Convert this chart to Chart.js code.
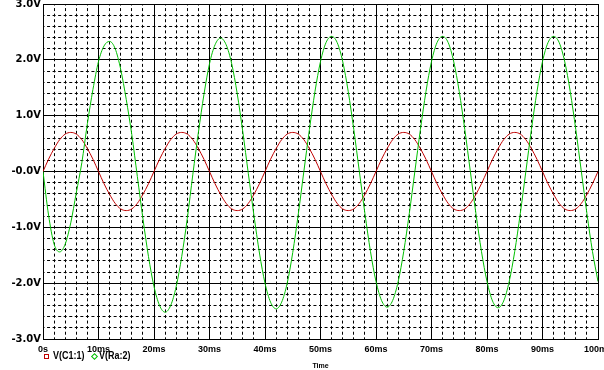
<!DOCTYPE html>
<html>
<head>
<meta charset="utf-8">
<script src="https://cdn.jsdelivr.net/npm/chart.js@4.4.0/dist/chart.umd.min.js"></script>
<style>
  body { margin: 0; background: #fff; }
  #wrap { position: relative; width: 604px; height: 370px; }
  .legtxt { position: absolute; top: 350px; font: bold 10px "Liberation Sans", Arial, sans-serif; color: #000;
            white-space: nowrap; transform: scaleX(0.9); transform-origin: 0 0; }
  .mark { position: absolute; width: 3px; height: 3px; background: #fff; }
</style>
</head>
<body>
<div id="wrap">
  <canvas id="scope" width="604" height="370"></canvas>
</div>
<script>
// series names / colours
const seriesNames = ["V(C1:1)", "V(Ra:2)"];
const seriesColors = ["#c00000", "#00c000"];

// axis tick labels
const xTickLabels = ["0s", "10ms", "20ms", "30ms", "40ms", "50ms", "60ms", "70ms", "80ms", "90ms", "100ms"];
const yTickLabels = ["-3.0V", "-2.0V", "-1.0V", "-0.0V", "1.0V", "2.0V", "3.0V"];

const sampleStepMs = 1;
const vC1 = [
  0.00, 0.22, 0.41, 0.57, 0.67, 0.70, 0.67, 0.57, 0.41, 0.22,
  0.00, -0.22, -0.41, -0.57, -0.67, -0.70, -0.67, -0.57, -0.41, -0.22,
  0.00, 0.22, 0.41, 0.57, 0.67, 0.70, 0.67, 0.57, 0.41, 0.22,
  0.00, -0.22, -0.41, -0.57, -0.67, -0.70, -0.67, -0.57, -0.41, -0.22,
  0.00, 0.22, 0.41, 0.57, 0.67, 0.70, 0.67, 0.57, 0.41, 0.22,
  0.00, -0.22, -0.41, -0.57, -0.67, -0.70, -0.67, -0.57, -0.41, -0.22,
  0.00, 0.22, 0.41, 0.57, 0.67, 0.70, 0.67, 0.57, 0.41, 0.22,
  0.00, -0.22, -0.41, -0.57, -0.67, -0.70, -0.67, -0.57, -0.41, -0.22,
  0.00, 0.22, 0.41, 0.57, 0.67, 0.70, 0.67, 0.57, 0.41, 0.22,
  0.00, -0.22, -0.41, -0.57, -0.67, -0.70, -0.67, -0.57, -0.41, -0.22,
  0.00
];
const vRa2 = [
  0.00, -0.78, -1.30, -1.44, -1.30, -0.92, -0.38, 0.16, 0.86, 1.47,
  1.97, 2.25, 2.33, 2.20, 1.83, 1.29, 0.66, -0.09, -0.84, -1.52,
  -2.06, -2.40, -2.52, -2.40, -2.06, -1.52, -0.84, -0.05, 0.70, 1.38,
  1.93, 2.27, 2.39, 2.27, 1.93, 1.39, 0.71, -0.04, -0.78, -1.46,
  -2.00, -2.34, -2.46, -2.34, -2.00, -1.45, -0.76, 0.00, 0.75, 1.43,
  1.97, 2.31, 2.42, 2.31, 1.97, 1.43, 0.75, 0.00, -0.75, -1.43,
  -1.97, -2.31, -2.43, -2.31, -1.97, -1.43, -0.75, 0.00, 0.75, 1.43,
  1.97, 2.31, 2.42, 2.31, 1.97, 1.43, 0.75, 0.00, -0.75, -1.43,
  -1.97, -2.32, -2.44, -2.32, -1.97, -1.43, -0.75, 0.00, 0.75, 1.43,
  1.97, 2.31, 2.42, 2.31, 1.97, 1.43, 0.75, 0.00, -0.75, -1.43,
  -1.97
];

const toPoints = (vals) => vals.map((v, i) => ({ x: i * sampleStepMs, y: v }));

const yFont = { family: '"DejaVu Sans", sans-serif', size: 10, weight: "bold" };
const xFont = { family: '"Liberation Sans", Arial, sans-serif', size: 9, weight: "bold" };

const config = {
  type: "line",
  data: {
    datasets: [
      { label: seriesNames[0], data: toPoints(vC1), borderColor: seriesColors[0], order: 1 },
      { label: seriesNames[1], data: toPoints(vRa2), borderColor: seriesColors[1], order: 0 },
    ],
  },
  options: {
    responsive: false,
    animation: false,
    devicePixelRatio: 1,
    layout: { padding: { top: 4, right: 6, left: 0, bottom: 0 } },
    elements: {
      point: { radius: 0 },
      line: { borderWidth: 1, cubicInterpolationMode: "monotone" },
    },
    plugins: { legend: { display: false }, tooltip: { enabled: false } },
    scales: {
      // minor grids first so the solid majors sit on top
      xMinor: {
        type: "linear", position: "bottom", min: 0, max: 100,
        grid: { color: "#000", lineWidth: 1, drawTicks: false },
        border: { display: false, dash: [3, 2.58], dashOffset: 1.5 },
        ticks: { stepSize: 2, display: false },
        afterFit: (s) => { s.height = 0; s.paddingLeft = 0; s.paddingRight = 0; },
      },
      yMinor: {
        type: "linear", position: "left", min: -3, max: 3,
        grid: { color: "#000", lineWidth: 1, drawTicks: false },
        border: { display: false, dash: [3, 2.55], dashOffset: 1.5 },
        ticks: { stepSize: 0.2, display: false },
        afterFit: (s) => { s.width = 0; s.paddingTop = 0; s.paddingBottom = 0; },
      },
      x: {
        type: "linear", min: 0, max: 100,
        grid: { color: "#000", lineWidth: 1, drawTicks: false },
        border: { color: "#000", width: 1 },
        ticks: {
          stepSize: 10, padding: 5, color: "#000", font: xFont, maxRotation: 0, autoSkip: false,
          callback: (v) => xTickLabels[Math.round(v / 10)],
        },
        title: { display: true, text: "Time", color: "#000", padding: 0,
          font: { family: '"Liberation Sans", Arial, sans-serif', size: 7, weight: "bold" } },
        afterFit: (s) => { s.height = 31; s.paddingLeft = 0; s.paddingRight = 0; },
      },
      y: {
        type: "linear", min: -3, max: 3,
        grid: { color: "#000", lineWidth: 1, drawTicks: false },
        border: { color: "#000", width: 1 },
        ticks: {
          stepSize: 1, padding: 2, color: "#000", font: yFont, autoSkip: false,
          callback: (v) => yTickLabels[Math.round(v + 3)],
        },
        afterFit: (s) => { s.width = 43; s.paddingTop = 0; s.paddingBottom = 0; },
      },
    },
  },
};

const chart = new Chart(document.getElementById("scope"), config);

// legend under the axis, like the probe window
const wrap = document.getElementById("wrap");
const legendX = [[44, 53], [92, 99]];
seriesNames.forEach((name, i) => {
  const m = document.createElement("div");
  m.className = "mark";
  m.style.border = "1px solid " + seriesColors[i];
  m.style.left = legendX[i][0] + "px";
  m.style.top = "354px";
  if (i === 1) m.style.transform = "rotate(45deg)";
  wrap.appendChild(m);
  const t = document.createElement("div");
  t.className = "legtxt";
  t.style.left = legendX[i][1] + "px";
  t.textContent = name;
  wrap.appendChild(t);
});
</script>
</body>
</html>
